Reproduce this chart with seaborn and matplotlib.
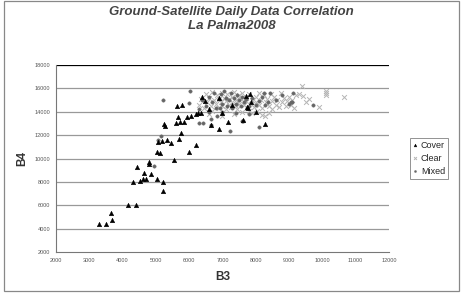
import numpy as np
import pandas as pd
import seaborn as sns
import matplotlib.pyplot as plt

# B3 / B4 values
cover_b3 = [3280, 3500, 3640, 3690, 4160, 4390, 4300, 4430, 4520, 4610, 4640, 4700,
            4790, 4800, 4860, 5030, 5040, 5110, 5220, 5220, 5060, 5170, 5320, 5460,
            5550, 5700, 5750, 6000, 6190, 5250, 5270, 5610, 5720, 5850, 5650, 5940,
            6050, 6190, 6270, 6350, 5620, 5770, 6490, 6670, 6910, 7160, 7620, 7720,
            7740, 7760, 7820, 7850, 8290, 6600, 6900, 7300, 7000, 8000, 6400]
cover_b4 = [4400, 4420, 5300, 4710, 6020, 6020, 7990, 9300, 8070, 8240, 8730, 8210,
            9700, 9550, 8700, 8270, 10520, 10440, 8010, 7215, 11400, 11520, 11580, 11290,
            9870, 11640, 12200, 10550, 11150, 12940, 12800, 13000, 13140, 13140, 13570, 13520,
            13650, 13770, 13860, 13910, 14480, 14540, 14890, 12890, 12540, 13120, 13290, 15340,
            14370, 14310, 15490, 14850, 12940, 14200, 15200, 14600, 13900, 14000, 15300]

clear_b3 = [6300, 6350, 6450, 6500, 6550, 6600, 6650, 6700, 6700, 6750, 6800, 6850,
            6900, 6900, 6950, 7000, 7000, 7050, 7100, 7100, 7150, 7200, 7200, 7250,
            7300, 7300, 7350, 7350, 7400, 7400, 7450, 7500, 7500, 7550, 7600, 7600,
            7650, 7700, 7700, 7750, 7800, 7850, 7900, 7900, 7950, 8000, 8000, 8050,
            8100, 8100, 8150, 8200, 8200, 8250, 8270, 8300, 8350, 8400, 8450, 8500,
            8500, 8550, 8600, 8650, 8700, 8750, 8800, 8850, 8900, 8950, 9000, 9050,
            9100, 9150, 9200, 9300, 9390, 9420, 9500, 9600, 9900, 10100, 10120, 10100,
            10650, 6600, 7000, 7800, 8400]
clear_b4 = [14600, 15100, 14300, 15500, 14800, 15200, 14500, 15700, 14100, 15000, 14700, 15400,
            14300, 15100, 14800, 15600, 14500, 15200, 14900, 14200, 15500, 14600, 15100, 14400,
            15300, 14800, 13820, 15700, 14500, 15000, 14200, 15400, 14700, 15100, 14000, 15600,
            14600, 14900, 15200, 14300, 15500, 14700, 13860, 15000, 14400, 15300, 14800, 14100,
            15600, 14600, 15000, 13710, 14300, 15400, 13650, 14800, 15100, 14500, 15500, 14200,
            14900, 15300, 14600, 15000, 14400, 15600, 14800, 15200, 14500, 14900, 15300, 14600,
            15000, 14300, 15400, 15480, 16220, 15360, 14800, 15100, 14370, 15790, 15570, 15420,
            15280, 13800, 13600, 14100, 13900]

mixed_b3 = [5200, 5990, 6020, 6300, 6430, 6650, 6670, 6850, 6920, 7240, 7580, 7620,
            8100, 8240, 8420, 8270, 8380, 8990, 9070, 9120, 9100, 9720, 4930, 5060,
            5140, 6400, 6500, 6600, 6700, 6750, 6800, 6900, 6950, 7000, 7050, 7100,
            7150, 7200, 7250, 7300, 7350, 7400, 7450, 7500, 7550, 7600, 7650, 7700,
            7800, 7900, 8000, 8100, 8200, 6300, 6600, 7000, 7400, 7800, 8600, 8800]
mixed_b4 = [15000, 14710, 15770, 13000, 13060, 13370, 12860, 13600, 14290, 12370, 13230, 13200,
            12660, 15570, 15570, 14570, 14800, 14630, 14800, 15620, 14800, 14570, 9380, 11600,
            11900, 15000, 14500, 15300, 14800, 15600, 14300, 15100, 15500, 14700, 15800, 15200,
            14500, 15000, 15600, 14300, 15200, 14700, 15400, 15000, 14500, 15300, 14800, 15100,
            14500, 15200, 14600, 14900, 15300, 14200, 14000, 14000, 13900, 13800, 15000, 15400]

x_ticks = list(range(2000, 12001, 1000))
y_ticks = list(range(2000, 18001, 2000))

sns.set_style("white")
plt.rcParams['font.family'] = ['Liberation Sans', 'DejaVu Sans']

fig = plt.figure(figsize=(4.63, 2.97), dpi=100)
ax = fig.add_axes([0.121, 0.1515, 0.719, 0.6295])

for yv in y_ticks[1:]:
    ax.axhline(yv, color="black" if yv == 18000 else "#999999", lw=0.9, zorder=0)

sns.scatterplot(x=cover_b3, y=cover_b4, marker="^", color="black", s=11,
                edgecolor="black", linewidth=0.3, label="Cover", ax=ax, zorder=3)
sns.scatterplot(x=clear_b3, y=clear_b4, marker="x", color="#b5b5b5", s=12,
                linewidth=0.7, label="Clear", ax=ax, zorder=2)
sns.scatterplot(x=mixed_b3, y=mixed_b4, marker="o", color="#666666", s=6,
                edgecolor="#666666", linewidth=0.3, label="Mixed", ax=ax, zorder=2)

ax.set_xlim(2000, 12000)
ax.set_ylim(2000, 18000)
ax.set_xticks(x_ticks)
ax.set_yticks(y_ticks)
ax.tick_params(axis="both", labelsize=4, colors="#555555", length=2, width=0.6, pad=2)
for s in ["top", "right"]:
    ax.spines[s].set_visible(False)
for s in ["left", "bottom"]:
    ax.spines[s].set_color("#777777")
    ax.spines[s].set_linewidth(0.8)

ax.set_xlabel("B3", fontsize=8.5, fontweight="bold", color="#333333", labelpad=6)
ax.set_ylabel("B4", fontsize=8.5, fontweight="bold", color="#333333", labelpad=5)

fig.text(0.5, 1 - 12 / 297, "Ground-Satellite Daily Data Correlation", ha="center", va="center",
         fontsize=9.5, fontweight="bold", fontstyle="italic", color="#444444")
fig.text(0.5, 1 - 26 / 297, "La Palma2008", ha="center", va="center",
         fontsize=9.5, fontweight="bold", fontstyle="italic", color="#444444")

leg = ax.legend(loc="upper left", bbox_to_anchor=(405 / 463, 1 - 133 / 297),
                bbox_transform=fig.transFigure, fontsize=6.5, frameon=True, fancybox=False,
                handlelength=0.5, handletextpad=0.4, borderpad=0.35, labelspacing=0.45,
                markerscale=0.6)
leg.get_frame().set_edgecolor("#777777")
leg.get_frame().set_linewidth(0.7)

fig.patches.append(plt.Rectangle((4 / 463, 6 / 297), 455 / 463, 290 / 297, transform=fig.transFigure,
                                 fill=False, edgecolor="#888888", lw=0.9))

fig.savefig("out.png", dpi=100)
